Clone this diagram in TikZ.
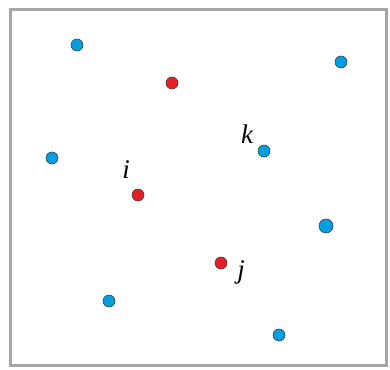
\documentclass[tikz,border=0pt]{standalone}
\usepackage{fontspec}
\setmainfont{Liberation Serif}
\begin{document}
\begin{tikzpicture}[x=1pt,y=-1pt,
  bdot/.style={circle,draw=black!75,line width=0.6pt,fill={rgb,255:red,0;green,158;blue,226},inner sep=0pt,minimum size=12pt},
  rdot/.style={circle,draw=black!75,line width=0.6pt,fill={rgb,255:red,228;green,30;blue,38},inner sep=0pt,minimum size=12pt},
  lbl/.style={font=\fontsize{27}{30}\selectfont\itshape,inner sep=0pt}]
\useasboundingbox (0,0) rectangle (390,369);
\draw[line width=3.5pt,draw=black!35] (10.5,9.5) rectangle (386.5,365.5);
\node[bdot] (b1) at (77,45) {};
\node[rdot] (r1) at (172,83) {};
\node[bdot] (b2) at (341,62) {};
\node[bdot] (b3) at (52,158) {};
\node[bdot] (k) at (264,151) {};
\node[rdot] (i) at (138,195) {};
\node[bdot,minimum size=14pt] (b4) at (326,226) {};
\node[rdot] (j) at (221,263) {};
\node[bdot] (b5) at (109,301) {};
\node[bdot] (b6) at (279,335) {};
\node[lbl] (lk) at (247,134) {k};
\node[lbl] (li) at (126,170) {i};
\node[lbl] (lj) at (241,272) {j};
\end{tikzpicture}
\end{document}
